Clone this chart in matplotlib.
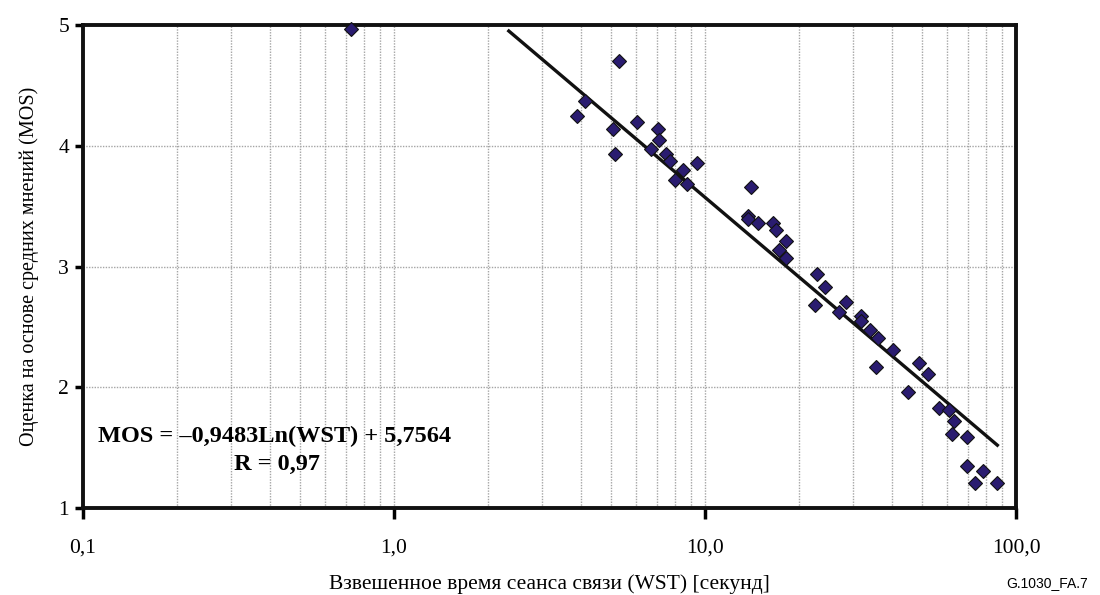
import numpy as np
import matplotlib
matplotlib.use("Agg")
import matplotlib.pyplot as plt
from matplotlib.ticker import FixedLocator, NullFormatter

# измеренные точки (WST, MOS)
wst = [0.727, 5.29, 4.10, 3.87, 5.06, 6.05, 7.04, 7.12, 5.15, 6.70, 7.47, 7.71,
       8.51, 9.44, 8.03, 8.77, 14.06, 13.7, 13.7, 14.76, 16.55, 16.9, 18.16,
       17.33, 18.16, 22.97, 24.38, 22.65, 28.3, 27.0, 31.8, 31.8, 33.95, 36.1,
       40.3, 35.4, 48.9, 52.0, 44.9, 56.5, 61.0, 63.1, 62.1, 69.8, 69.8, 78.5,
       74.0, 87.1]
mos = [4.97, 4.70, 4.37, 4.25, 4.14, 4.20, 4.14, 4.05, 3.93, 3.97, 3.93, 3.87,
       3.80, 3.86, 3.72, 3.68, 3.66, 3.42, 3.39, 3.36, 3.36, 3.30, 3.21,
       3.14, 3.07, 2.94, 2.83, 2.68, 2.71, 2.62, 2.59, 2.55, 2.47, 2.41,
       2.31, 2.17, 2.20, 2.11, 1.96, 1.83, 1.81, 1.72, 1.61, 1.59, 1.35, 1.31,
       1.21, 1.21]

# логарифмический тренд из подписи на графике
coef_a = -0.9483
coef_b = 5.7564
trend_x = [2.34, 3, 5, 8, 12, 20, 30, 50, 70, 87.1]

xticks = [0.1, 1, 10, 100]
xtick_labels = ["0,1", "1,0", "10,0", "100,0"]
yticks = [1, 2, 3, 4, 5]

serif = ["Liberation Serif", "DejaVu Serif"]

fig = plt.figure(figsize=(11, 5.95), dpi=100)
ax = fig.add_axes([83 / 1100, 1 - 508 / 595, (1016 - 83) / 1100, (508 - 25) / 595])

ax.set_xscale("log")
ax.set_xlim(0.1, 100)
ax.set_ylim(1, 5)

minor = [m * d for d in (0.1, 1, 10) for m in range(2, 10)]
ax.xaxis.set_major_locator(FixedLocator(xticks))
ax.xaxis.set_minor_locator(FixedLocator(minor))
ax.xaxis.set_minor_formatter(NullFormatter())
ax.set_xticks(xticks)
ax.set_xticklabels(xtick_labels, fontsize=15.5, fontfamily=serif)
ax.set_yticks(yticks)
ax.set_yticklabels([str(v) for v in yticks], fontsize=15.5, fontfamily=serif)

for x in minor + [1, 10]:
    ax.axvline(x, color="#a5a5a5", linestyle=(0, (1, 1)), linewidth=1.0, zorder=0)
for y in [2, 3, 4]:
    ax.axhline(y, color="#a5a5a5", linestyle=(0, (1, 1)), linewidth=1.0, zorder=0)

ax.tick_params(axis="x", which="major", direction="out", length=8, width=2.5, pad=14)
ax.tick_params(axis="x", which="minor", length=0)
ax.tick_params(axis="y", direction="out", length=6, width=2.5, pad=4)

for s in ax.spines.values():
    s.set_linewidth(2.8)
    s.set_color("#111111")

tx = np.array(trend_x)
ax.plot(tx, coef_a * np.log(tx) + coef_b, color="#111111", linewidth=2.4, zorder=2)

ax.plot(wst, mos, linestyle="none", marker="D", markersize=7.5,
        markerfacecolor="#2a1c70", markeredgecolor="#111111", markeredgewidth=0.8,
        zorder=3, clip_on=False)

ax.text(0.1117, 1.59, "MOS = \u20130,9483Ln(WST) + 5,7564", fontsize=17.5,
        fontweight="bold", fontfamily=serif, va="center", ha="left")
ax.text(0.421, 1.36, "R = 0,97", fontsize=17.5, fontweight="bold",
        fontfamily=serif, va="center", ha="center")

ax.set_xlabel("Взвешенное время сеанса связи (WST) [секунд]", fontsize=15.5,
              fontfamily=serif, labelpad=12)
ax.set_ylabel("Оценка на основе средних мнений (MOS)", fontsize=14.5,
              fontfamily=serif, labelpad=14)

fig.text(1088 / 1100, 1 - 583 / 595, "G.1030_FA.7", fontsize=10,
         fontfamily="Liberation Sans", ha="right", va="center")

fig.savefig("out.png", dpi=100)
